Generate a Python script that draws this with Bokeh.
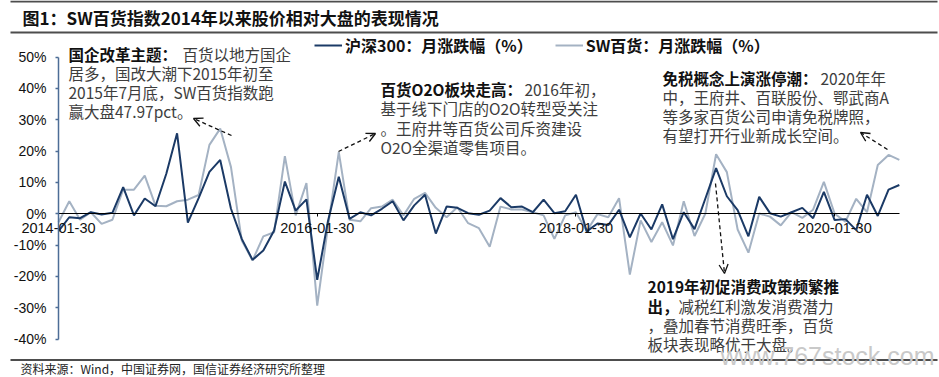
from bokeh.plotting import figure
from bokeh.models import (LinearAxis, FixedTicker, Range1d, Arrow, OpenHead,
                          Legend, LegendItem, PrintfTickFormatter)
from bokeh.core.properties import value
from bokeh.embed import file_html
from bokeh.resources import INLINE

# ---------------- data (monthly change, %) ----------------
HS300 = [-5.5, -1.1, -1.4, 0.5, -0.2, 0.3, 8.5, -0.5, 4.9, 2.4,
         12.8, 25.7, -2.8, 5.0, 13.4, 17.2, 1.6, -8.0, -14.7, -11.7,
         -5.3, 10.3, 1.0, 4.6, -21.1, -2.3, 11.8, -1.6, 0.5, -0.5,
         1.6, 4.0, -2.1, 2.7, 6.1, -6.3, 2.3, 1.9, 0.2, -0.3,
         1.0, 5.0, 2.1, 2.3, 0.5, 4.5, 0.2, 0.8, 6.1, -5.6,
         -3.1, -3.6, 1.3, -7.5, 0.1, -5.0, 3.0, -8.1, 0.5, -4.9,
         4.8, 14.6, 5.6, 1.2, -7.2, 5.4, 0.2, -0.9, 0.5, 1.9,
         -1.4, 7.0, -2.0, -1.7, -5.2, 6.1, -0.7, 7.7, 9.2]
SW_DEPT = [-2.7, 4.0, -1.9, 0.5, -3.2, -1.9, 7.7, 7.7, 12.2, 2.6,
           2.4, 4.0, 4.5, 6.0, 22.0, 27.2, 14.9, -8.5, -14.9, -7.2,
           -5.9, 18.4, -0.5, 9.8, -29.3, -4.0, 19.7, -1.9, -2.4, 1.8,
           2.3, 4.5, -0.5, 4.8, 6.7, 1.9, -1.1, 2.1, -3.0, -4.6,
           -10.5, 2.3, 1.4, 1.4, 0.5, -0.5, -8.0, -0.5, 0.5, -5.5,
           -0.1, -1.1, 5.0, -19.4, -2.1, -9.0, -2.7, -10.1, 4.0, -7.1,
           0.0, 19.0, 13.3, -5.0, -12.4, 0.1, -0.9, -3.7, 0.5, -1.3,
           1.3, 10.2, 0.0, -2.5, 4.8, 0.5, 15.6, 18.8, 17.2]
MONTH_IDX = list(range(len(HS300)))
X_TICK_POS = [0, 24, 48, 72]
X_TICK_LABELS = ["2014-01-30", "2016-01-30", "2018-01-30", "2020-01-30"]
Y_TICKS = [-40, -30, -20, -10, 0, 10, 20, 30, 40, 50]
SERIES_NAMES = ["沪深300：月涨跌幅（%）", "SW百货：月涨跌幅（%）"]

# ---------------- layout constants ----------------
W, H = 939, 377
X0, PXM = 58.0, 10.78      # pixel of month 0, pixels per month
Y0, PXP = 213.3, 3.133     # pixel of 0%, pixels per 1%


def dx(px):
    return (px - X0) / PXM


def dy(py):
    return (Y0 - py) / PXP


DARK = "#1b3a66"
LIGHT = "#a4b2c3"
AXIS_BLUE = "#4d6d96"
NOTE_GRAY = "#3d3d3d"
CJK = "Noto Sans CJK SC"
LAT = "Liberation Sans"

p = figure(width=W, height=H, output_backend="svg", toolbar_location=None,
           x_range=Range1d(dx(0), dx(W)), y_range=Range1d(dy(H), dy(0)),
           x_axis_location=None, y_axis_location=None, min_border=0,
           outline_line_color=None, background_fill_color="white",
           border_fill_color="white")
p.grid.visible = False

# ---------------- axes ----------------
yax = LinearAxis(fixed_location=0, bounds=(-40, 50), ticker=FixedTicker(ticks=Y_TICKS),
                 formatter=PrintfTickFormatter(format="%d%%"),
                 axis_line_color=AXIS_BLUE, axis_line_width=1.5,
                 major_tick_line_color=AXIS_BLUE, major_tick_line_width=1.5,
                 major_tick_out=3, major_tick_in=0, minor_tick_out=0, minor_tick_in=0,
                 major_label_standoff=9, major_label_text_font=LAT,
                 major_label_text_font_size="14px", major_label_text_color="#111111")
p.add_layout(yax, "left")

xax = LinearAxis(fixed_location=0, bounds=(0, len(HS300) - 1),
                 ticker=FixedTicker(ticks=X_TICK_POS),
                 major_label_overrides=dict(zip(X_TICK_POS, X_TICK_LABELS)),
                 axis_line_color="black", axis_line_width=1,
                 major_tick_line_color="black", major_tick_out=3, major_tick_in=0,
                 minor_tick_out=0, minor_tick_in=0,
                 major_label_standoff=6, major_label_text_font=LAT,
                 major_label_text_font_size="14.5px", major_label_text_color="#111111")
p.add_layout(xax, "below")

# ---------------- series ----------------
r_sw = p.line(MONTH_IDX, SW_DEPT, line_color=LIGHT, line_width=2)
r_hs = p.line(MONTH_IDX, HS300, line_color=DARK, line_width=2)

leg = Legend(items=[LegendItem(label=SERIES_NAMES[0], renderers=[r_hs]),
                    LegendItem(label=SERIES_NAMES[1], renderers=[r_sw])],
             orientation="horizontal", location=(314, H - 57),
             padding=0, margin=0, spacing=22, glyph_width=28, glyph_height=18,
             label_standoff=3, label_height=18,
             label_text_font=CJK, label_text_font_size="16px",
             label_text_font_style="bold", label_text_color="#111111",
             border_line_color=None, background_fill_alpha=0)
p.add_layout(leg)

# ---------------- frame lines ----------------
p.segment(x0=[dx(10), dx(10), dx(10)], y0=[dy(1), dy(32), dy(359.5)],
          x1=[dx(937), dx(937), dx(937)], y1=[dy(1), dy(32), dy(359.5)],
          line_color="#4d4d4d", line_width=2)

# ---------------- title ----------------
p.text(x=[dx(22)], y=[dy(17)], text=["图1：SW百货指数2014年以来股价相对大盘的表现情况"],
       text_font=value(CJK), text_font_size="17px", text_font_style="bold",
       text_color="#111111", text_align="left", text_baseline="middle")

# ---------------- annotations ----------------
bold_parts = [
    (68, 53, "国企改革主题："),
    (380, 88, "百货O2O板块走高："),
    (662, 77, "免税概念上演涨停潮："),
    (647, 285, "2019年初促消费政策频繁推"),
    (647, 305, "出，"),
]
p.text(x=[dx(b[0]) for b in bold_parts], y=[dy(b[1]) for b in bold_parts],
       text=[b[2] for b in bold_parts], text_font=value(CJK), text_font_size="15.5px",
       text_font_style="bold", text_color="#111111", text_align="left",
       text_baseline="middle")

normal_parts = [
    (182, 53, "百货以地方国企"),
    (68, 72, "居多，国改大潮下2015年初至"),
    (68, 91, "2015年7月底，SW百货指数跑"),
    (68, 110, "赢大盘47.97pct。"),
    (524, 88, "2016年初，"),
    (380, 107, "基于线下门店的O2O转型受关注"),
    (380, 127, "。王府井等百货公司斥资建设"),
    (380, 146, "O2O全渠道零售项目。"),
    (820, 77, "2020年年"),
    (662, 96, "中，王府井、百联股份、鄂武商A"),
    (662, 115, "等多家百货公司申请免税牌照，"),
    (662, 134, "有望打开行业新成长空间。"),
    (678, 305, "减税红利激发消费潜力"),
    (647, 324, "，叠加春节消费旺季，百货"),
    (647, 343, "板块表现略优于大盘。"),
]
p.text(x=[dx(n[0]) for n in normal_parts], y=[dy(n[1]) for n in normal_parts],
       text=[n[2] for n in normal_parts], text_font=value(CJK), text_font_size="15.5px",
       text_color=NOTE_GRAY, text_align="left", text_baseline="middle")

arrows = [((231, 135), (193, 118)), ((338, 151), (375, 133)),
          ((887, 149), (860, 132)), ((715, 183), (724, 273))]
for (sx0, sy0), (sx1, sy1) in arrows:
    p.add_layout(Arrow(x_start=dx(sx0), y_start=dy(sy0), x_end=dx(sx1), y_end=dy(sy1),
                       line_color="#111111", line_width=1.3, line_dash="4 3",
                       end=OpenHead(size=9, line_color="#111111", line_width=1.3)))

# ---------------- footer & watermark ----------------
p.text(x=[dx(20)], y=[dy(367.5)], text=["资料来源：Wind，中国证券网，国信证券经济研究所整理"],
       text_font=value(CJK), text_font_size="12px", text_color="#222222",
       text_align="left", text_baseline="middle")
p.text(x=[dx(720)], y=[dy(355)], text=["www.767stock.com"],
       text_font=value(LAT), text_font_size="25px", text_color="#c9c9c9",
       text_align="left", text_baseline="middle")

open("out.html", "w").write(file_html(p, INLINE))
